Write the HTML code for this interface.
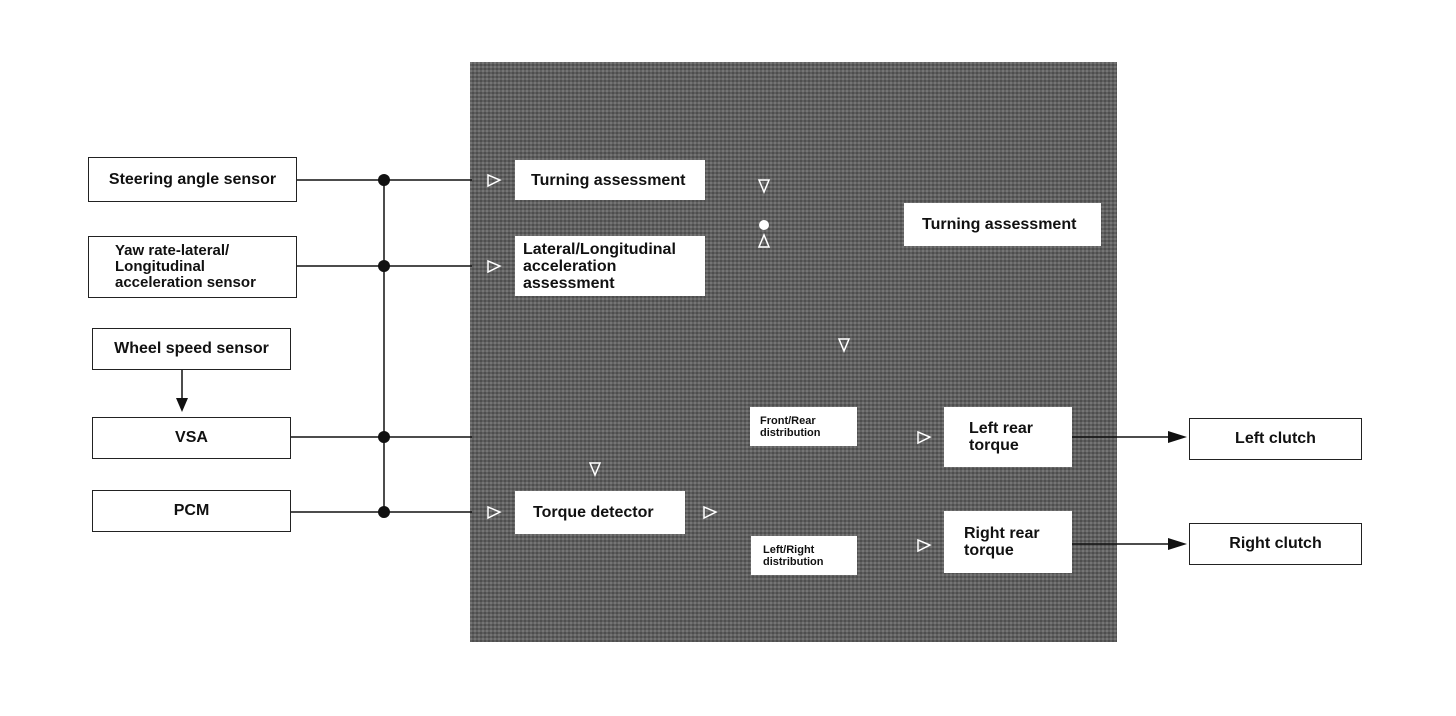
<!DOCTYPE html>
<html><head><style>
body{margin:0;background:#fff;width:1456px;height:716px;position:relative;overflow:hidden;font-family:"Liberation Sans",sans-serif;font-weight:bold;}
.b{position:absolute;background:#fff;box-sizing:border-box;display:flex;align-items:center;color:#111;}
.o{border:1.5px solid #222;justify-content:center;font-size:16px;}
.i{font-size:16px;padding-left:8px;line-height:17px;}
#g{position:absolute;left:470px;top:62px;width:647px;height:580px;background-color:#626262;
background-image:repeating-linear-gradient(0deg,rgba(0,0,0,.2) 0 2px,transparent 2px 4px),repeating-linear-gradient(90deg,rgba(255,255,255,.12) 0 2px,transparent 2px 4px);}
svg{position:absolute;left:0;top:0}
</style></head><body>
<div id="g"></div>
<svg width="1456" height="716">
<g stroke="#111" stroke-width="1.5" fill="none">
<line x1="297" y1="180" x2="472" y2="180"/>
<line x1="297" y1="266" x2="472" y2="266"/>
<line x1="291" y1="437" x2="472" y2="437"/>
<line x1="291" y1="512" x2="472" y2="512"/>
<line x1="384" y1="180" x2="384" y2="512"/>
<line x1="182" y1="370" x2="182" y2="400"/>
<line x1="1072" y1="437" x2="1170" y2="437"/>
<line x1="1072" y1="544" x2="1170" y2="544"/>
</g>
<g fill="#111">
<circle cx="384" cy="180" r="6"/><circle cx="384" cy="266" r="6"/><circle cx="384" cy="437" r="6"/><circle cx="384" cy="512" r="6"/>
<polygon points="176,398 188,398 182,412"/>
<polygon points="1168,431 1168,443 1187,437"/>
<polygon points="1168,538 1168,550 1187,544"/>
</g>
<g fill="none" stroke="#fff" stroke-width="1.5">
<polygon points="488,175 488,186 500,180"/>
<polygon points="488,261 488,272 500,266"/>
<polygon points="488,507 488,518 500,512"/>
<polygon points="704,507 704,518 716,512"/>
<polygon points="918,432 918,443 930,437"/>
<polygon points="918,540 918,551 930,545"/>
<polygon points="759,180 769,180 764,192"/>
<polygon points="759,247 769,247 764,235"/>
<polygon points="839,339 849,339 844,351"/>
<polygon points="590,463 600,463 595,475"/>
</g>
<circle cx="764" cy="225" r="5" fill="#fff"/>
</svg>
<div class="b o" style="left:88px;top:157px;width:209px;height:45px">Steering angle sensor</div>
<div class="b o" style="left:88px;top:236px;width:209px;height:62px;justify-content:flex-start;padding-left:26px;line-height:16px;font-size:15px">Yaw rate-lateral/<br>Longitudinal<br>acceleration sensor</div>
<div class="b o" style="left:92px;top:328px;width:199px;height:42px">Wheel speed sensor</div>
<div class="b o" style="left:92px;top:417px;width:199px;height:42px">VSA</div>
<div class="b o" style="left:92px;top:490px;width:199px;height:42px">PCM</div>
<div class="b i" style="left:515px;top:160px;width:190px;height:40px;padding-left:16px">Turning assessment</div>
<div class="b i" style="left:515px;top:236px;width:190px;height:60px">Lateral/Longitudinal<br>acceleration<br>assessment</div>
<div class="b i" style="left:515px;top:491px;width:170px;height:43px;padding-left:18px">Torque detector</div>
<div class="b i" style="left:750px;top:407px;width:107px;height:39px;font-size:11px;line-height:12px;padding-left:10px">Front/Rear<br>distribution</div>
<div class="b i" style="left:751px;top:536px;width:106px;height:39px;font-size:11px;line-height:12px;padding-left:12px">Left/Right<br>distribution</div>
<div class="b i" style="left:904px;top:203px;width:197px;height:43px;padding-left:18px">Turning assessment</div>
<div class="b i" style="left:944px;top:407px;width:128px;height:60px;padding-left:25px">Left rear<br>torque</div>
<div class="b i" style="left:944px;top:511px;width:128px;height:62px;padding-left:20px">Right rear<br>torque</div>
<div class="b o" style="left:1189px;top:418px;width:173px;height:42px">Left clutch</div>
<div class="b o" style="left:1189px;top:523px;width:173px;height:42px">Right clutch</div>
</body></html>
